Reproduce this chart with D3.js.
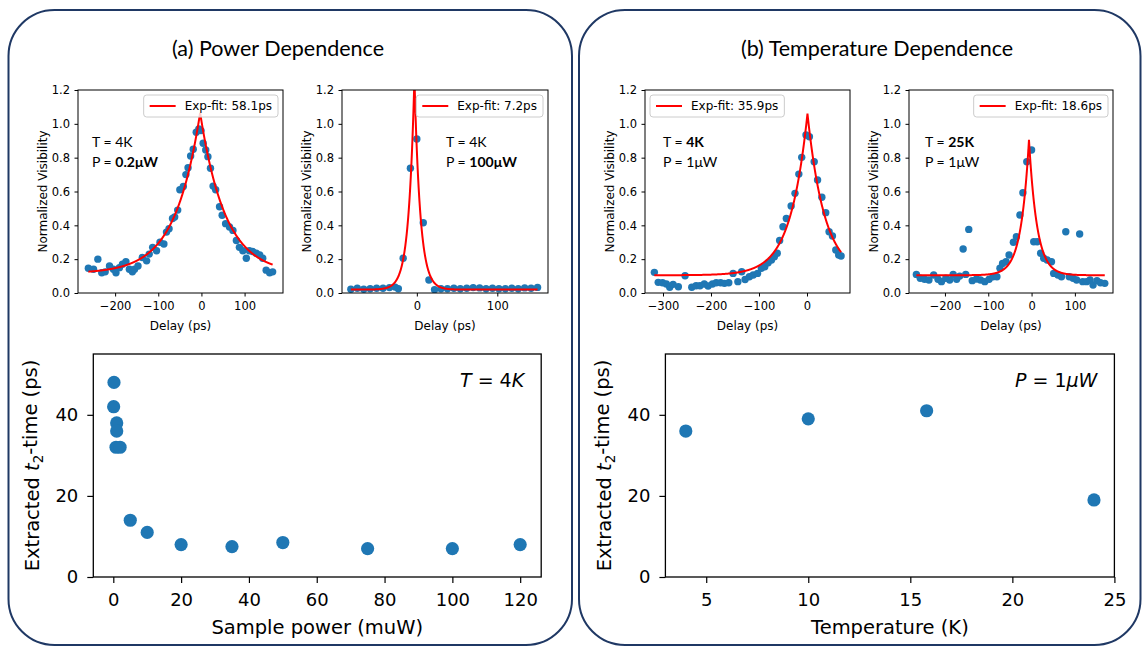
<!DOCTYPE html>
<html>
<head>
<meta charset="utf-8">
<script src="https://cdn.jsdelivr.net/npm/d3@7"></script>
<style>
  body { margin: 0; background: #fff; }
  text { fill: #000; }
</style>
</head>
<body>
<svg id="fig" width="1143" height="649"></svg>
<script>
// ---------------- data ----------------
// (a) 4 K, 0.2 uW interferogram
const delayA1 = [-262,-250,-240,-231,-223,-213,-204,-198,-190,-183,-175,-167,-160,-155,-147,-137,-127,-121,-113,-104,-96,-87,-81,-75,-67,-62,-55,-50,-42,-36,-31,-25,-19,-12,-6,-1,4,10,15,21,27,33,42,48,56,65,73,81,88,96,104,111,119,127,135,142,150,158,165];
const visA1   = [0.146,0.14,0.2,0.12,0.125,0.16,0.14,0.12,0.15,0.17,0.185,0.14,0.125,0.14,0.16,0.21,0.19,0.23,0.27,0.25,0.3,0.29,0.36,0.38,0.44,0.45,0.49,0.61,0.63,0.70,0.74,0.81,0.85,0.95,0.97,0.96,0.885,0.845,0.806,0.737,0.632,0.61,0.51,0.46,0.41,0.39,0.37,0.31,0.27,0.25,0.205,0.25,0.245,0.235,0.225,0.205,0.135,0.12,0.125];

// (a) 4 K, 100 uW interferogram
const delayA2 = [-82,-74,-66,-58,-50,-42,-34,-27,-23,-17,-8,0,8,15,22,30,38,46,54,62,70,78,86,94,102,110,118,126,134,142,150];
const visA2   = [0.022,0.028,0.022,0.025,0.028,0.028,0.032,0.035,0.025,0.205,0.737,0.91,0.415,0.077,0.02,0.025,0.025,0.028,0.025,0.028,0.032,0.03,0.025,0.028,0.025,0.025,0.028,0.025,0.03,0.028,0.033];

// (b) 4 K, 1 uW interferogram
const delayB1 = [-318,-310,-301,-293,-286,-279,-268,-254,-240,-231,-223,-214,-206,-197,-189,-180,-172,-163,-154,-144,-136,-129,-120,-112,-103,-95,-88,-81,-74,-68,-62,-57,-50,-43,-33,-25,-17,-11,-2,5,15,22,31,39,46,53,60,66,71];
const visB1   = [0.122,0.063,0.061,0.053,0.034,0.051,0.037,0.102,0.034,0.043,0.043,0.053,0.041,0.053,0.061,0.061,0.057,0.061,0.116,0.067,0.126,0.08,0.096,0.106,0.116,0.146,0.155,0.179,0.195,0.215,0.235,0.31,0.392,0.44,0.514,0.589,0.703,0.802,0.934,0.924,0.776,0.668,0.566,0.475,0.362,0.337,0.254,0.225,0.219];

// (b) 25 K, 1 uW interferogram
const delayB2 = [-266,-257,-247,-237,-226,-216,-208,-198,-189,-181,-173,-166,-158,-152,-145,-137,-127,-118,-108,-98,-89,-80,-73,-67,-59,-52,-42,-35,-27,-20,-11,0,5,13,21,28,36,46,51,61,69,79,87,96,104,111,118,127,135,142,151,159,169];
const visB2   = [0.11,0.087,0.081,0.077,0.106,0.081,0.067,0.087,0.077,0.11,0.081,0.1,0.26,0.11,0.376,0.073,0.083,0.077,0.067,0.081,0.096,0.096,0.146,0.175,0.185,0.225,0.3,0.333,0.461,0.593,0.776,0.845,0.303,0.303,0.235,0.205,0.195,0.185,0.116,0.106,0.096,0.362,0.096,0.087,0.077,0.349,0.067,0.067,0.077,0.047,0.073,0.061,0.057];

// exponential fit parameters: y = offset + amp * exp(-|t - center| / tau)
const fitTau    = [58.1, 7.2, 35.9, 18.6];
const fitAmp    = [0.95, 1.25, 0.955, 0.80];
const fitCenter = [-3, -3, 1, -6];
const fitOffset = [0.115, 0.02, 0.105, 0.105];

// inset annotations
const noteT    = ["4K", "4K", "4K", "25K"];
const noteP    = ["0.2μW", "100μW", "1μW", "1μW"];
const noteBold = ["P", "P", "T", "T"];

// extracted t2 vs power (T = 4 K)
const powerUW  = [0.2, 0.1, 1, 1, 0.8, 2, 5, 10, 20, 35, 50, 75, 100, 120];
const t2Power  = [48, 42, 38, 36, 32, 32, 14, 11, 8, 7.5, 8.5, 7, 7, 8];

// extracted t2 vs temperature (P = 1 uW)
const tempK    = [4, 10, 15.8, 24];
const t2Temp   = [36, 39, 41, 19];

// tick values
const visTicks   = [0, 0.2, 0.4, 0.6, 0.8, 1.0, 1.2];
const delayTicksA1 = [-200, -100, 0, 100];
const delayTicksA2 = [0, 100];
const delayTicksB1 = [-300, -200, -100, 0];
const delayTicksB2 = [-200, -100, 0, 100];
const powerTicks = [0, 20, 40, 60, 80, 100, 120];
const tempTicks  = [5, 10, 15, 20, 25];
const t2Ticks    = [0, 20, 40];

// ---------------- drawing ----------------
const BLUE = "#1f77b4";
const MPL = "'DejaVu Sans', sans-serif";
const SLIDE = "Lato, 'Open Sans', sans-serif";
const svg = d3.select("#fig");
svg.append("rect").attr("width", 1143).attr("height", 649).attr("fill", "#fff");

// rounded frames
[[8.5, 563.5], [579, 561.5]].forEach(([fx, fw]) => {
  svg.append("rect").attr("x", fx).attr("y", 10).attr("width", fw).attr("height", 635)
    .attr("rx", 46).attr("ry", 46)
    .attr("fill", "none").attr("stroke", "#1f3864").attr("stroke-width", 2);
});
svg.append("text").attr("x", 278).attr("y", 56).attr("text-anchor", "middle")
  .style("font-family", SLIDE).style("font-size", "21.5px").text("(a) Power Dependence");
svg.append("text").attr("x", 877).attr("y", 56).attr("text-anchor", "middle")
  .style("font-family", SLIDE).style("font-size", "21.5px").text("(b) Temperature Dependence");

function styleAxis(sel, size) {
  sel.select(".domain").remove();
  sel.selectAll(".tick line").attr("stroke", "#000");
  sel.selectAll(".tick text").style("font-family", MPL).style("font-size", size + "px").attr("fill", "#000");
}

let clipCount = 0;
function smallPanel(i, box, xDomain, xTicks, delays, vis, legendSide, noteX) {
  const [x0, x1, y0, y1] = box;
  const x = d3.scaleLinear().domain(xDomain).range([x0, x1]);
  const y = d3.scaleLinear().domain([0, 1.2]).range([y1, y0]);
  const g = svg.append("g");
  const cid = "clip" + (clipCount++);
  g.append("clipPath").attr("id", cid).append("rect")
    .attr("x", x0).attr("y", y0).attr("width", x1 - x0).attr("height", y1 - y0);
  const plot = g.append("g").attr("clip-path", `url(#${cid})`);

  plot.selectAll("circle").data(d3.zip(delays, vis)).join("circle")
    .attr("cx", d => x(d[0])).attr("cy", d => y(d[1])).attr("r", 3.7).attr("fill", BLUE);

  const [lo, hi] = d3.extent(delays);
  const fitY = t => fitOffset[i] + fitAmp[i] * Math.exp(-Math.abs(t - fitCenter[i]) / fitTau[i]);
  const grid = d3.range(lo, hi + 0.01, 0.25);
  plot.append("path").datum(grid)
    .attr("d", d3.line().x(t => x(t)).y(t => y(fitY(t))))
    .attr("fill", "none").attr("stroke", "#ff0000").attr("stroke-width", 2);

  // axes
  const gx = g.append("g").attr("transform", `translate(0,${y1})`)
    .call(d3.axisBottom(x).tickValues(xTicks).tickSize(3.5).tickPadding(5.5).tickFormat(d3.format("d")));
  styleAxis(gx, 11.5);
  const gy = g.append("g").attr("transform", `translate(${x0},0)`)
    .call(d3.axisLeft(y).tickValues(visTicks).tickSize(3.5).tickPadding(4.5).tickFormat(d3.format(".1f")));
  styleAxis(gy, 11.5);
  g.append("rect").attr("x", x0).attr("y", y0).attr("width", x1 - x0).attr("height", y1 - y0)
    .attr("fill", "none").attr("stroke", "#000").attr("stroke-width", 1);

  g.append("text").attr("x", (x0 + x1) / 2).attr("y", y1 + 36.5).attr("text-anchor", "middle")
    .style("font-family", MPL).style("font-size", "12px").text("Delay (ps)");
  g.append("text").attr("transform", `translate(${x0 - 35},${(y0 + y1) / 2}) rotate(-90)`)
    .attr("text-anchor", "middle").attr("dy", "0.35em")
    .style("font-family", MPL).style("font-size", "12px").text("Normalized Visibility");

  // legend
  const lg = g.append("g");
  const box_ = lg.append("rect");
  const label = lg.append("text").style("font-family", MPL).style("font-size", "12px")
    .text(`Exp-fit: ${fitTau[i]}ps`);
  const tw = label.node().getComputedTextLength();
  const lw = 41 + tw + 6, lh = 22;
  const lx = legendSide === "right" ? x1 - 5 - lw : x0 + 5;
  const ly = y0 + 5;
  box_.attr("x", lx).attr("y", ly).attr("width", lw).attr("height", lh).attr("rx", 3)
    .attr("fill", "#fff").attr("fill-opacity", 0.8).attr("stroke", "#cccccc").attr("stroke-width", 1);
  lg.append("line").attr("x1", lx + 6).attr("x2", lx + 32).attr("y1", ly + lh / 2).attr("y2", ly + lh / 2)
    .attr("stroke", "#ff0000").attr("stroke-width", 2);
  label.attr("x", lx + 41).attr("y", ly + lh / 2 + 4.3);

  // sample conditions
  const lines = [["T = ", noteT[i], "T"], ["P = ", noteP[i], "P"]];
  lines.forEach(([pre, val, key], k) => {
    const t = g.append("text").attr("x", noteX).attr("y", y0 + 57 + k * 19.5)
      .style("font-family", SLIDE).style("font-size", "14px");
    t.append("tspan").text(pre);
    t.append("tspan").style("font-weight", noteBold[i] === key ? "bold" : "normal").text(val);
  });
}

smallPanel(0, [78, 283, 90, 293], [-286, 189], delayTicksA1, delayA1, visA1, "right", 92);
smallPanel(1, [342, 548, 90, 293], [-93, 163], delayTicksA2, delayA2, visA2, "right", 446);
smallPanel(2, [645, 850, 90, 293], [-337.5, 89.6], delayTicksB1, delayB1, visB1, "left", 663);
smallPanel(3, [909, 1113, 90, 293], [-283, 188], delayTicksB2, delayB2, visB2, "right", 925);

function bigPanel(box, xDomain, xTicks, xs, ys, xLabel, noteParts) {
  const [x0, x1, y0, y1] = box;
  const x = d3.scaleLinear().domain(xDomain).range([x0, x1]);
  const y = d3.scaleLinear().domain([0, 55]).range([y1, y0]);
  const g = svg.append("g");

  g.selectAll("circle").data(d3.zip(xs, ys)).join("circle")
    .attr("cx", d => x(d[0])).attr("cy", d => y(d[1])).attr("r", 6.6).attr("fill", BLUE);

  const gx = g.append("g").attr("transform", `translate(0,${y1})`)
    .call(d3.axisBottom(x).tickValues(xTicks).tickSize(6).tickPadding(10.5).tickFormat(d3.format("d")));
  styleAxis(gx, 18);
  gx.selectAll(".tick line").attr("stroke-width", 1.2);
  const gy = g.append("g").attr("transform", `translate(${x0},0)`)
    .call(d3.axisLeft(y).tickValues(t2Ticks).tickSize(6).tickPadding(9).tickFormat(d3.format("d")));
  styleAxis(gy, 18);
  gy.selectAll(".tick line").attr("stroke-width", 1.2);
  g.append("rect").attr("x", x0).attr("y", y0).attr("width", x1 - x0).attr("height", y1 - y0)
    .attr("fill", "none").attr("stroke", "#000").attr("stroke-width", 1.3);

  g.append("text").attr("x", (x0 + x1) / 2).attr("y", y1 + 57).attr("text-anchor", "middle")
    .style("font-family", MPL).style("font-size", "19.5px").text(xLabel);

  const yl = g.append("text").attr("transform", `translate(${x0 - 61},${(y0 + y1) / 2}) rotate(-90)`)
    .attr("text-anchor", "middle").attr("dy", "0.35em")
    .style("font-family", MPL).style("font-size", "19.5px");
  yl.append("tspan").text("Extracted ");
  yl.append("tspan").style("font-style", "italic").text("t");
  yl.append("tspan").style("font-size", "13.5px").attr("dy", "0.3em").text("2");
  yl.append("tspan").attr("dy", "-0.3em").text("-time (ps)");

  const nt = g.append("text").attr("x", x1 - 17).attr("y", y0 + 33).attr("text-anchor", "end")
    .style("font-family", MPL).style("font-size", "19px");
  noteParts.forEach(([s, it]) => nt.append("tspan").style("font-style", it ? "italic" : "normal").text(s));
}

bigPanel([93.3, 541.2, 354, 577], [-5.9, 126.2], powerTicks, powerUW, t2Power,
  "Sample power (muW)", [["T", true], [" = 4", false], ["K", true]]);
bigPanel([665.4, 1114.4, 354, 577], [3, 25], tempTicks, tempK, t2Temp,
  "Temperature (K)", [["P", true], [" = 1", false], ["μW", true]]);
</script>
</body>
</html>
